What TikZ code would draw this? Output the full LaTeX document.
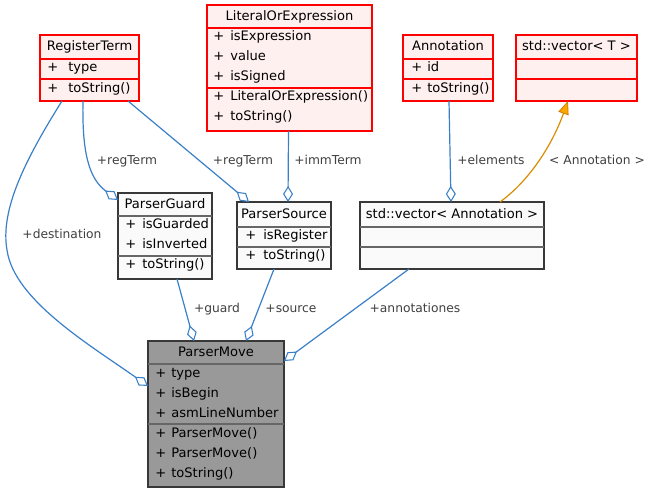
\documentclass[tikz,border=0pt]{standalone}
\usepackage{fontspec}
\setmainfont{DejaVu Sans}
\usetikzlibrary{arrows.meta,calc}
\definecolor{edgeblue}{HTML}{3A80C8}
\definecolor{redfill}{HTML}{FFF0F0}
\definecolor{grayfill}{HTML}{F9FAF9}
\definecolor{movefill}{HTML}{999999}
\definecolor{lbl}{HTML}{404040}
\definecolor{tmplline}{HTML}{D98C00}
\definecolor{tmplfill}{HTML}{FFA500}
\definecolor{tmpldraw}{HTML}{C88000}
\newcommand\umlbox[6]{%
  \node[#1, minimum width={(#5-#3)*0.75pt}, minimum height={(#6-#4)*0.75pt}] (#2) at (#3,#4) {};}
\newcommand\umlmem[5]{%
  \node[member] (#1p) at (#2,#4) {+};
  \node[member] (#1) at (#3,#4) {#5};}
\begin{document}
\begin{tikzpicture}[x=0.75pt,y=-0.75pt,
  boxbase/.style={inner sep=0, outer sep=0, anchor=north west},
  redbox/.style={boxbase, draw=red, fill=redfill, line width=1.3pt},
  graybox/.style={boxbase, draw=black!78, fill=grayfill, line width=1pt},
  movebox/.style={boxbase, draw=black!78, fill=movefill, line width=1pt},
  reddiv/.style={draw=red, line width=1pt},
  graydiv/.style={draw=black!60, line width=0.9pt},
  title/.style={font=\fontsize{9.8}{11}\selectfont, inner sep=0, anchor=mid},
  member/.style={font=\fontsize{9.8}{11}\selectfont, inner sep=0, anchor=mid west},
  lab/.style={font=\fontsize{9.2}{10}\selectfont, text=lbl, inner sep=0, anchor=mid},
  agg/.style={draw=edgeblue, line width=0.9pt, -{Diamond[fill=white, length=12pt, width=7.5pt, line width=0.8pt]}},
  tmpl/.style={draw=tmplline, line width=0.9pt, -{Triangle[color=tmpldraw, fill=tmplfill, length=10pt, width=8pt, line width=0.6pt]}}
]
\useasboundingbox[fill=white] (0,0) rectangle (654,492);

% RegisterTerm
\umlbox{redbox}{rt}{40}{35}{139}{101}
\draw[reddiv] (rt.west |- 0,59) -- (rt.east |- 0,59);
\draw[reddiv] (rt.west |- 0,79) -- (rt.east |- 0,79);
\node[title] (rtt) at (89.5,47) {RegisterTerm};
\umlmem{rt1}{47}{68}{68}{type}
\umlmem{rt2}{47}{68}{89}{toString()}

% LiteralOrExpression
\umlbox{redbox}{loe}{207}{5}{372}{131}
\draw[reddiv] (loe.west |- 0,28) -- (loe.east |- 0,28);
\draw[reddiv] (loe.west |- 0,88) -- (loe.east |- 0,88);
\node[title] (loet) at (289.5,17) {LiteralOrExpression};
\umlmem{loe1}{213}{230}{37}{isExpression}
\umlmem{loe2}{213}{230}{57}{value}
\umlmem{loe3}{213}{230}{77}{isSigned}
\umlmem{loe4}{213}{230}{97}{LiteralOrExpression()}
\umlmem{loe5}{213}{230}{117}{toString()}

% Annotation
\umlbox{redbox}{an}{403}{35}{493}{101}
\draw[reddiv] (an.west |- 0,59) -- (an.east |- 0,59);
\draw[reddiv] (an.west |- 0,79) -- (an.east |- 0,79);
\node[title] (ant) at (448,47) {Annotation};
\umlmem{an1}{411}{427}{68}{id}
\umlmem{an2}{411}{427}{89}{toString()}

% std::vector< T >
\umlbox{redbox}{vt}{516}{35}{637}{101}
\draw[reddiv] (vt.west |- 0,59) -- (vt.east |- 0,59);
\draw[reddiv] (vt.west |- 0,79) -- (vt.east |- 0,79);
\node[title] (vtt) at (576.5,47) {std::vector< T >};

% ParserGuard
\umlbox{graybox}{pg}{118}{193}{212}{279}
\draw[graydiv] (pg.west |- 0,216) -- (pg.east |- 0,216);
\draw[graydiv] (pg.west |- 0,256) -- (pg.east |- 0,256);
\node[title] (pgt) at (165,205) {ParserGuard};
\umlmem{pg1}{125}{142}{225}{isGuarded}
\umlmem{pg2}{125}{142}{245}{isInverted}
\umlmem{pg3}{125}{142}{265}{toString()}

% ParserSource
\umlbox{graybox}{ps}{237}{202}{331}{269}
\draw[graydiv] (ps.west |- 0,227) -- (ps.east |- 0,227);
\draw[graydiv] (ps.west |- 0,247) -- (ps.east |- 0,247);
\node[title] (pst) at (284,215) {ParserSource};
\umlmem{ps1}{245}{263}{236}{isRegister}
\umlmem{ps2}{245}{263}{256}{toString()}

% std::vector< Annotation >
\umlbox{graybox}{va}{360}{202}{544}{269}
\draw[graydiv] (va.west |- 0,227) -- (va.east |- 0,227);
\draw[graydiv] (va.west |- 0,247) -- (va.east |- 0,247);
\node[title] (vat) at (452,215) {std::vector< Annotation >};

% ParserMove
\umlbox{movebox}{pm}{148}{341}{284}{487}
\draw[graydiv] (pm.west |- 0,364) -- (pm.east |- 0,364);
\draw[graydiv] (pm.west |- 0,424) -- (pm.east |- 0,424);
\node[title] (pmt) at (216,353) {ParserMove};
\umlmem{pm1}{155}{171}{374}{type}
\umlmem{pm2}{155}{171}{394}{isBegin}
\umlmem{pm3}{155}{171}{414}{asmLineNumber}
\umlmem{pm4}{155}{171}{434}{ParserMove()}
\umlmem{pm5}{155}{171}{454}{ParserMove()}
\umlmem{pm6}{155}{171}{474}{toString()}

% connectors
\draw[agg] ($(rt.south west)+(22,0)$) .. controls (25,160) and (0,210) .. (7,250)
   .. controls (14,300) and (90,345) .. ($(pm.west)+(0,-28)$);
\draw[agg] ($(rt.south west)+(43,0)$) .. controls (82,150) and (88,178) .. ($(pg.north west)+(0,7)$);
\draw[agg] ($(rt.south west)+(88,0)$) -- ($(ps.north west)+(12,0)$);
\draw[agg] ($(loe.south)+(-1,0)$) -- ($(ps.north west)+(51,0)$);
\draw[agg] ($(an.south)+(1,0)$) -- ($(va.north west)+(91,0)$);
\draw[tmpl] ($(va.north west)+(140,0)$) .. controls (530,180) and (552,145) .. ($(vt.south west)+(52,0)$);
\draw[agg] ($(pg.south west)+(59,0)$) -- ($(pm.north west)+(46,0)$);
\draw[agg] ($(ps.south west)+(37,0)$) -- ($(pm.north west)+(98,0)$);
\draw[agg] ($(va.south west)+(49,0)$) -- ($(pm.north east)+(0,20)$);

% labels
\node[lab] (l1) at (62,235) {+destination};
\node[lab] (l2) at (127,161) {+regTerm};
\node[lab] (l3) at (243,161) {+regTerm};
\node[lab] (l4) at (328,161) {+immTerm};
\node[lab] (l5) at (491,161) {+elements};
\node[lab] (l6) at (597,161) {< Annotation >};
\node[lab] (l7) at (217,309) {+guard};
\node[lab] (l8) at (291,309) {+source};
\node[lab] (l9) at (415,309) {+annotationes};
\end{tikzpicture}
\end{document}
